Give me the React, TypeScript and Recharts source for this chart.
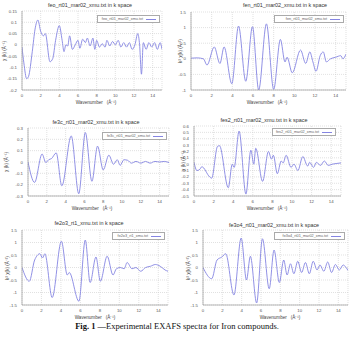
import { LineChart, Line, XAxis, YAxis, CartesianGrid } from "recharts";

// k grid (Å^-1) and chi values
const kFeo = [0, 0.2, 0.5, 0.7, 1.1, 1.4, 1.7, 2.0, 2.3, 2.5, 3.0, 3.3, 3.6, 4.0, 4.3, 4.5, 4.7, 4.9, 5.1, 5.4, 5.7, 6.0, 6.2, 6.5, 6.8, 7.0, 7.3, 7.6, 7.8, 8.0, 8.3, 8.6, 8.9, 9.1, 9.4, 9.7, 10.0, 10.3, 10.6, 10.9, 11.2, 11.5, 11.8, 12.1, 12.4, 12.6, 12.8, 13.0, 13.3, 13.6, 13.9, 14.2, 14.5, 14.8, 15];
const feoVals = [-0.01, -0.08, -0.15, -0.14, -0.03, 0.07, 0.11, 0.06, 0.04, 0.05, -0.075, -0.06, 0.02, 0.085, 0.02, -0.03, 0.0, -0.005, 0.04, -0.02, 0.0, 0.02, -0.015, 0.025, 0.01, 0.03, -0.005, 0.03, -0.02, 0.02, -0.01, 0.005, -0.01, 0.02, -0.005, 0.015, 0.0, 0.02, -0.01, 0.01, -0.01, 0.01, -0.02, 0.0, 0.05, 0.0, -0.13, 0.01, -0.02, 0.01, -0.01, 0.01, -0.02, 0.01, -0.02];

const kFen = [0, 0.6, 1.2, 1.55, 2.25, 2.8, 3.2, 3.95, 4.6, 5.3, 5.95, 6.55, 7.3, 8.0, 8.65, 9.1, 9.3, 9.8, 10.6, 11.1, 11.5, 11.8, 12.1, 12.5, 12.8, 13.1, 13.5, 14.0, 14.5, 14.7, 15];
const fenVals = [0.02, 0.03, 0.0, -0.2, 0.38, -0.15, 0.38, -0.8, 1.05, -0.72, 1.03, -1.0, 1.12, -0.98, 0.62, -0.1, 0.05, -0.45, 0.28, -0.15, 0.22, -0.1, -0.4, 0.1, 0.22, -0.1, 0.0, 0.05, 0.1, 0.0, 0.15];

const kFe3c = [0, 0.7, 1.5, 1.9, 2.2, 2.5, 3.0, 3.6, 4.6, 5.4, 6.1, 6.8, 7.4, 8.0, 8.6, 9.1, 9.5, 9.8, 10.2, 10.6, 11.0, 11.5, 12.0, 12.5, 13.0, 13.5, 14.0, 14.5, 15];
const fe3cVals = [0.0, -0.18, 0.07, -0.005, 0.02, 0.03, 0.08, -0.21, 0.23, -0.28, 0.26, -0.17, 0.14, -0.07, 0.06, -0.02, 0.02, -0.03, 0.02, 0.015, -0.01, 0.005, -0.01, 0.005, -0.01, 0.005, 0.0, 0.005, -0.005];

const kFes2 = [0, 0.3, 0.6, 0.8, 1.6, 1.8, 2.4, 2.6, 3.5, 3.9, 4.1, 4.6, 5.3, 5.8, 6.1, 6.3, 7.0, 7.6, 7.9, 8.1, 8.5, 8.9, 9.1, 9.4, 9.9, 10.2, 10.6, 11.1, 11.6, 11.8, 12.2, 12.5, 12.9, 13.3, 13.7, 14.1, 14.5, 15];
const fes2Vals = [0.03, -0.1, -0.08, -0.04, -0.2, -0.22, 0.28, 0.29, -0.37, 0.0, -0.05, 0.52, -0.47, 0.22, 0.0, 0.25, -0.27, 0.2, 0.08, 0.14, -0.15, 0.05, 0.02, 0.14, -0.05, 0.0, -0.1, 0.12, -0.03, 0.03, -0.05, 0.03, -0.02, 0.05, -0.02, 0.0, 0.01, 0.02];

const kFe2o3 = [0, 0.75, 1.3, 1.85, 2.1, 2.35, 3.1, 4.05, 4.65, 4.85, 5.85, 6.5, 7.0, 7.6, 8.05, 8.75, 9.35, 9.7, 10.1, 10.5, 10.8, 11.3, 11.7, 12.2, 12.7, 13.2, 13.7, 14.2, 14.7, 15];
const fe2o3Vals = [0.0, -0.55, 0.3, 0.55, 0.38, 0.55, -1.2, 1.05, -0.3, -0.2, -1.35, 1.1, -0.6, 0.42, -0.55, 0.45, -0.3, -0.05, 0.0, -0.05, 0.2, -0.05, 0.0, -0.15, 0.0, 0.05, 0.12, 0.05, -0.1, -0.15];

const kFe3o4 = [0, 0.9, 1.45, 1.95, 2.35, 3.2, 3.95, 4.5, 4.9, 5.55, 6.15, 6.85, 7.35, 7.9, 8.35, 8.7, 9.05, 9.4, 9.8, 10.2, 10.6, 11.0, 11.4, 11.8, 12.1, 12.5, 12.9, 13.3, 13.7, 14.1, 14.5, 14.8, 15];
const fe3o4Vals = [0.0, -0.45, 0.3, 0.42, 0.55, -1.1, 1.18, -0.5, 0.45, -1.42, 1.15, -0.85, 0.7, -0.6, 0.3, -0.3, 0.15, -0.25, 0.25, -0.2, 0.2, -0.25, 0.25, -0.1, 0.1, -0.15, 0.22, -0.2, 0.12, -0.1, 0.1, 0.0, -0.12];

const xTicks = [0, 2, 4, 6, 8, 10, 12, 14];
const ticksFeo = [-0.2, -0.15, -0.1, -0.05, 0, 0.05, 0.1, 0.15];
const ticksFen = [-1, -0.5, 0, 0.5, 1, 1.5];
const ticksFe3c = [-0.3, -0.2, -0.1, 0, 0.1, 0.2, 0.3];
const ticksFes2 = [-0.5, -0.4, -0.3, -0.2, -0.1, 0, 0.1, 0.2, 0.3, 0.4, 0.5, 0.6];
const ticksK2 = [-1.5, -1, -0.5, 0, 0.5, 1, 1.5];

const LINE = "#8585e2";
const FONT = "Arial, 'Liberation Sans', sans-serif";
const YW = 30;
const XH = 12;
const MT = 3;
const MR = 3;

type PanelProps = {
  k: number[];
  vals: number[];
  yTicks: number[];
  title: string;
  legend: string;
  yLabel: string;
  plot: [number, number, number, number];
  titleAt: [number, number];
  xLabelX: number;
  yLabelX: number;
  legendBox: [number, number, number];
};

function Panel(p: PanelProps) {
  const [l, t, r, b] = p.plot;
  const data = p.k.map((k, i) => ({ k, v: p.vals[i] }));
  const tickStyle = { fontSize: 4.3, fill: "#555", fontFamily: FONT };
  return (
    <>
      <div
        style={{
          position: "absolute",
          left: p.titleAt[0],
          top: p.titleAt[1],
          transform: "translate(-50%, -50%)",
          fontSize: 5.4,
          color: "#333",
          whiteSpace: "nowrap",
          fontFamily: FONT,
        }}
      >
        {p.title}
      </div>
      <div style={{ position: "absolute", left: l - YW, top: t - MT }}>
        <LineChart
          width={YW + (r - l) + MR}
          height={MT + (b - t) + XH}
          data={data}
          margin={{ top: MT, right: MR, bottom: 0, left: 0 }}
        >
          <CartesianGrid stroke="#cccccc" strokeDasharray="1 1" strokeWidth={0.6} />
          <XAxis
            type="number"
            dataKey="k"
            domain={[0, 15]}
            ticks={xTicks}
            interval={0}
            height={XH}
            tickSize={0}
            tickMargin={4}
            tick={tickStyle}
            axisLine={{ stroke: "#999", strokeWidth: 0.7 }}
            allowDataOverflow
          />
          <XAxis xAxisId="top" orientation="top" type="number" domain={[0, 15]} height={0} tick={false} tickLine={false} axisLine={{ stroke: "#999", strokeWidth: 0.7 }} />
          <YAxis
            type="number"
            domain={[p.yTicks[0], p.yTicks[p.yTicks.length - 1]]}
            ticks={p.yTicks}
            interval={0}
            width={YW}
            tickSize={0}
            tickMargin={5}
            tick={tickStyle}
            axisLine={{ stroke: "#999", strokeWidth: 0.7 }}
            allowDataOverflow
          />
          <YAxis yAxisId="right" orientation="right" width={0} tick={false} tickLine={false} axisLine={{ stroke: "#999", strokeWidth: 0.7 }} />
          <Line
            type="monotone"
            dataKey="v"
            stroke={LINE}
            strokeWidth={0.9}
            dot={false}
            isAnimationActive={false}
          />
        </LineChart>
      </div>
      <div
        style={{
          position: "absolute",
          left: p.legendBox[0],
          top: p.legendBox[1],
          width: p.legendBox[2],
          height: 8,
          boxSizing: "border-box",
          border: "0.7px solid #aaa",
          background: "#fff",
          display: "flex",
          alignItems: "center",
          justifyContent: "flex-end",
          paddingRight: 3,
          fontSize: 3.8,
          color: "#666",
          fontFamily: FONT,
          whiteSpace: "nowrap",
        }}
      >
        <span>{p.legend}</span>
        <span style={{ display: "inline-block", width: 10, height: 0, borderTop: `1px solid ${LINE}`, marginLeft: 3 }} />
      </div>
      <div
        style={{
          position: "absolute",
          left: p.xLabelX,
          top: b + 12.5,
          transform: "translate(-50%, -50%)",
          fontSize: 4.6,
          lineHeight: 1,
          color: "#444",
          whiteSpace: "nowrap",
          fontFamily: FONT,
        }}
      >
        Wavenumber&nbsp;&nbsp;&nbsp;(Å⁻¹)
      </div>
      <div
        style={{
          position: "absolute",
          left: p.yLabelX,
          top: (t + b) / 2,
          transform: "translate(-50%, -50%) rotate(-90deg)",
          fontSize: 4.6,
          lineHeight: 1,
          color: "#444",
          whiteSpace: "nowrap",
          fontFamily: FONT,
        }}
      >
        {p.yLabel}
      </div>
    </>
  );
}

export default function App() {
  return (
    <div
      style={{
        position: "absolute",
        left: 0,
        top: 0,
        width: 354,
        height: 342,
        background: "#fff",
        overflow: "hidden",
      }}
    >
      <Panel
        k={kFeo}
        vals={feoVals}
        yTicks={ticksFeo}
        title="feo_rt01_mar02_xmu.txt in k space"
        legend="feo_rt01_mar02_xmu.txt"
        yLabel="χ (k)    (Å⁻¹)"
        plot={[22, 11, 162, 90]}
        titleAt={[90, 5]}
        xLabelX={96}
        yLabelX={5}
        legendBox={[97, 15, 63]}
      />
      <Panel
        k={kFen}
        vals={fenVals}
        yTicks={ticksFen}
        title="fen_rt01_mar02_xmu.txt in k space"
        legend="fen_rt01_mar02_xmu.txt"
        yLabel="k² χ(k)    (Å⁻²)"
        plot={[191, 12, 346, 90]}
        titleAt={[285, 5]}
        xLabelX={267}
        yLabelX={181}
        legendBox={[274, 15, 70]}
      />
      <Panel
        k={kFe3c}
        vals={fe3cVals}
        yTicks={ticksFe3c}
        title="fe3c_rt01_mar02_xmu.txt in k space"
        legend="fe3c_rt01_mar02_xmu.txt"
        yLabel="χ (k)    (Å⁻¹)"
        plot={[28, 128, 169, 196]}
        titleAt={[96, 122]}
        xLabelX={92}
        yLabelX={7}
        legendBox={[102, 132, 65]}
      />
      <Panel
        k={kFes2}
        vals={fes2Vals}
        yTicks={ticksFes2}
        title="fes2_rt01_mar02_xmu.txt in k space"
        legend="fes2_rt01_mar02_xmu.txt"
        yLabel="χ (k)    (Å⁻¹)"
        plot={[194, 126, 341, 196]}
        titleAt={[264, 120]}
        xLabelX={267}
        yLabelX={184}
        legendBox={[272, 128, 64]}
      />
      <Panel
        k={kFe2o3}
        vals={fe2o3Vals}
        yTicks={ticksK2}
        title="fe2o3_rt1_xmu.txt in k space"
        legend="fe2o3_rt1_xmu.txt"
        yLabel="k² χ(k)    (Å⁻²)"
        plot={[22, 230, 168, 305]}
        titleAt={[89, 223]}
        xLabelX={95}
        yLabelX={8}
        legendBox={[112, 232, 53]}
      />
      <Panel
        k={kFe3o4}
        vals={fe3o4Vals}
        yTicks={ticksK2}
        title="fe3o4_rt01_mar02_xmu.txt in k space"
        legend="fe3o4_rt01_mar02_xmu.txt"
        yLabel="k² χ(k)    (Å⁻²)"
        plot={[203, 230, 348, 305]}
        titleAt={[274, 225]}
        xLabelX={280}
        yLabelX={189}
        legendBox={[274, 232, 71]}
      />
      <div
        style={{
          position: "absolute",
          left: 177,
          top: 326,
          transform: "translate(-50%, -50%)",
          fontSize: 8.5,
          lineHeight: 1,
          fontFamily: "'Times New Roman', 'Liberation Serif', serif",
          color: "#111",
          whiteSpace: "nowrap",
        }}
      >
        <b>Fig. 1</b> —Experimental EXAFS spectra for Iron compounds.
      </div>
    </div>
  );
}
